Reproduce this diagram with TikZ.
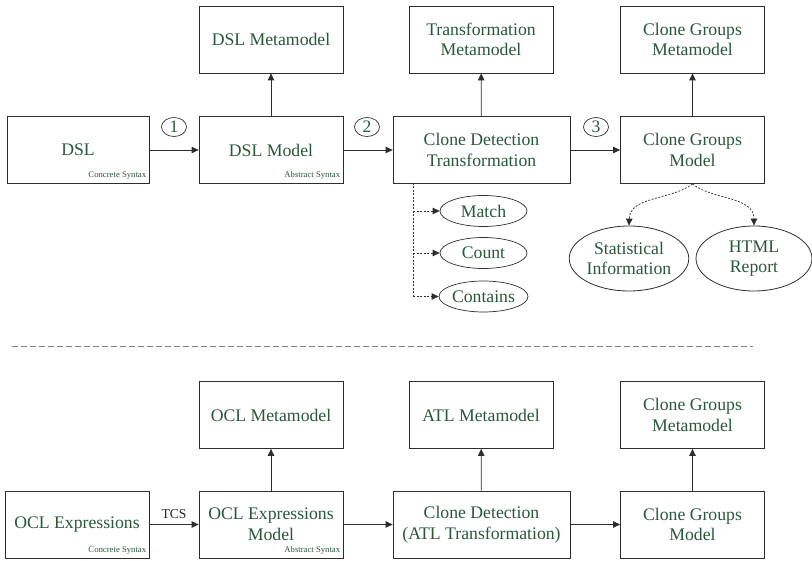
\documentclass[tikz,border=0pt]{standalone}
\usepackage{fontspec}
\setmainfont{Liberation Serif}
\usetikzlibrary{arrows.meta,shapes.geometric}
\definecolor{txtgreen}{RGB}{40,88,56}
\definecolor{edge}{RGB}{45,45,45}
\begin{document}
\begin{tikzpicture}[x=1pt,y=-1pt,
  box/.style={draw=edge,line width=0.8pt,minimum width=144pt,minimum height=67pt,
    inner sep=0pt,align=center,text=txtgreen,font=\fontsize{17.7}{20.7}\selectfont},
  widebox/.style={box,minimum width=177pt},
  oval/.style={ellipse,draw=edge,line width=0.8pt,inner sep=0pt,align=center,
    text=txtgreen,font=\fontsize{17.7}{20.7}\selectfont},
  small/.style={ellipse,draw=edge,line width=0.7pt,minimum width=87pt,minimum height=31pt,
    inner sep=0pt,text=txtgreen,font=\fontsize{17.7}{20.7}\selectfont},
  num/.style={ellipse,draw=edge,line width=0.7pt,minimum width=25pt,minimum height=19pt,
    inner sep=0pt,text=txtgreen,font=\fontsize{17.5}{18}\selectfont},
  syntax/.style={anchor=south east,inner sep=0pt,text=txtgreen,
    font=\fontsize{8.7}{10}\selectfont},
  arr/.style={draw=edge,line width=0.8pt,-{Triangle[length=7pt,width=6.5pt]}},
  dasharr/.style={draw=edge,line width=0.7pt,dash pattern=on 2pt off 1.5pt,
    -{Triangle[length=7pt,width=6.5pt]}},
  dashln/.style={draw=edge,line width=0.7pt,dash pattern=on 2pt off 1.5pt}]
\useasboundingbox (0,0) rectangle (812,561);

% ---- upper chain: DSL ----
\node[box] (dslmm) at (271,39.5) {DSL Metamodel};
\node[box,minimum width=142pt] (dsl) at (78,150) {DSL};
\node[box] (dslm) at (271,150) {DSL Model};
\node[box] (trmm) at (481,39.5) {Transformation\\Metamodel};
\node[widebox] (cdt) at (481.5,150) {Clone Detection\\Transformation};
\node[box] (cgmm) at (692.5,39.5) {Clone Groups\\Metamodel};
\node[box] (cgm) at (692.5,150) {Clone Groups\\Model};

\node[syntax] (cs1) at ([xshift=-3pt,yshift=4pt]dsl.south east) {Concrete Syntax};
\node[syntax] (as1) at ([xshift=-3pt,yshift=4pt]dslm.south east) {Abstract Syntax};

\node[num] (n1) at (174,127) {1};
\node[num] (n2) at (367,127) {2};
\node[num] (n3) at (596,127) {3};

\draw[arr] (dsl) -- (dslm);
\draw[arr] (dslm) -- (cdt);
\draw[arr] (cdt) -- (cgm);
\draw[arr] (dslm) -- (dslmm);
\draw[arr] (cdt) -- (trmm);
\draw[arr] (cgm) -- (cgmm);

% operations of the transformation
\node[small] (match) at (483.5,211) {Match};
\node[small] (count) at (483.5,253) {Count};
\node[small] (contains) at (483.5,296.5) {Contains};
\coordinate (tr0) at (413,183);
\coordinate (tr1) at (413,211);
\coordinate (tr2) at (413,253);
\coordinate (tr3) at (413,296.5);
\draw[dashln] (tr0) -- (tr3);
\draw[dasharr] (tr1) -- (match);
\draw[dasharr] (tr2) -- (count);
\draw[dasharr] (tr3) -- (contains);

% outputs of the clone groups model
\node[oval,minimum width=118pt,minimum height=65pt] (stat) at (629,258.5) {Statistical\\Information};
\node[oval,minimum width=116pt,minimum height=65pt] (html) at (754,258.5) {HTML\\Report};
\draw[dasharr] (cgm.south) .. controls (672,200) and (630,196) .. (stat.north);
\draw[dasharr] (cgm.south) .. controls (712,200) and (754,196) .. (html.north);

% separator
\coordinate (sepl) at (12,346);
\coordinate (sepr) at (753,346);
\draw[draw=gray,line width=0.7pt,dash pattern=on 6pt off 3pt] (sepl) -- (sepr);

% ---- lower chain: OCL ----
\node[box] (oclmm) at (271,415) {OCL Metamodel};
\node[box] (atlmm) at (481,415) {ATL Metamodel};
\node[box] (cgmm2) at (692.5,415) {Clone Groups\\Metamodel};
\node[box] (ocle) at (77,524.5) {OCL Expressions};
\node[box] (oclem) at (271,524.5) {OCL Expressions\\Model};
\node[widebox] (cdatl) at (481.5,524.5) {Clone Detection\\(ATL Transformation)};
\node[box] (cgm2) at (692.5,524.5) {Clone Groups\\Model};

\node[syntax] (cs2) at ([xshift=-3pt,yshift=4pt]ocle.south east) {Concrete Syntax};
\node[syntax] (as2) at ([xshift=-3pt,yshift=4pt]oclem.south east) {Abstract Syntax};

\draw[arr] (ocle) -- node[above=2pt,font=\fontsize{13.6}{15}\selectfont,text=black!85] (tcs) {TCS} (oclem);
\draw[arr] (oclem) -- (cdatl);
\draw[arr] (cdatl) -- (cgm2);
\draw[arr] (oclem) -- (oclmm);
\draw[arr] (cdatl) -- (atlmm);
\draw[arr] (cgm2) -- (cgmm2);
\end{tikzpicture}
\end{document}
